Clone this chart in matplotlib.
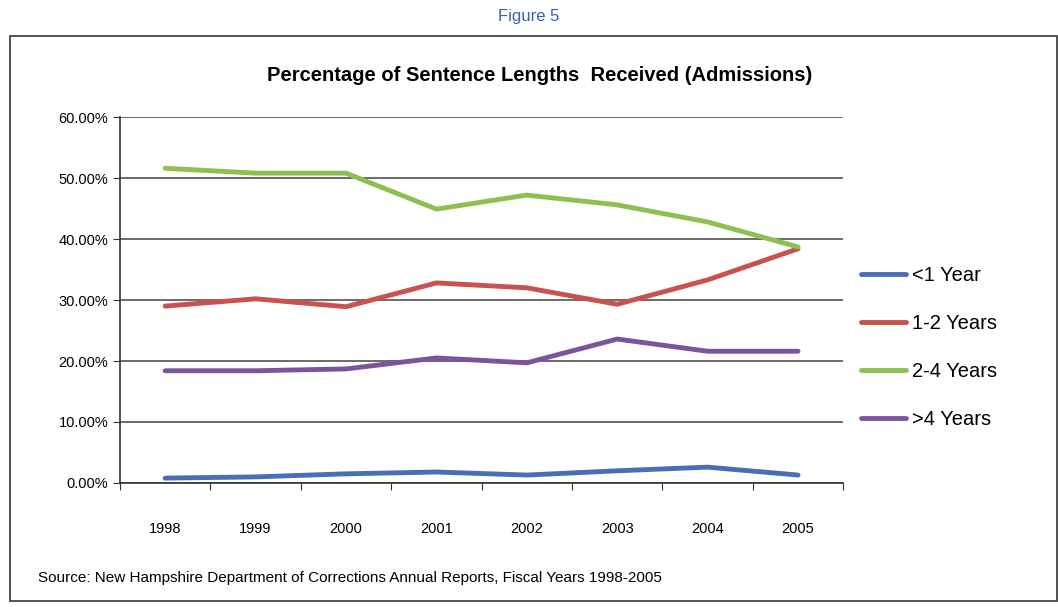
import matplotlib.pyplot as plt
from matplotlib.patches import Rectangle

plt.rcParams['font.family'] = ['Liberation Sans Narrow', 'Liberation Sans', 'DejaVu Sans']

years = ['1998', '1999', '2000', '2001', '2002', '2003', '2004', '2005']
under_1 = [0.8, 1.0, 1.5, 1.8, 1.3, 2.0, 2.6, 1.3]
yrs_1_2 = [29.0, 30.2, 28.9, 32.8, 32.0, 29.3, 33.3, 38.4]
yrs_2_4 = [51.6, 50.8, 50.8, 44.9, 47.2, 45.6, 42.8, 38.7]
over_4 = [18.4, 18.4, 18.7, 20.5, 19.7, 23.6, 21.6, 21.6]
series_names = ['<1 Year', '1-2 Years', '2-4 Years', '>4 Years']
colors = ['#4a6db3', '#c9514f', '#8fbf50', '#7a559c']

fig = plt.figure(figsize=(10.58, 6.07), dpi=100)
ax = fig.add_axes([0.1134, 0.2043, 0.6836, 0.6029])

x = list(range(len(years)))
for vals, name, c in zip([under_1, yrs_1_2, yrs_2_4, over_4], series_names, colors):
    ax.plot(x, vals, color=c, lw=3.5, label=name, solid_capstyle='round', zorder=3)

ax.set_xlim(-0.5, len(years) - 0.5)
ax.set_ylim(0, 60)
ax.set_yticks(range(0, 61, 10))
ax.set_yticklabels(['%.2f%%' % v for v in range(0, 61, 10)], fontsize=10.5)
ax.yaxis.grid(True, color='#444444', lw=1.1)
ax.set_axisbelow(True)

# category labels between tick marks
ax.set_xticks([i - 0.5 for i in range(len(years) + 1)])
ax.set_xticklabels([])
ax.set_xticks(x, minor=True)
ax.set_xticklabels(years, minor=True, fontsize=10.5)
ax.tick_params(axis='x', which='minor', length=0, pad=28)
ax.tick_params(axis='x', which='major', length=5, direction='out', color='#333333')
ax.tick_params(axis='y', length=5, color='#333333')

for s in ['top', 'right']:
    ax.spines[s].set_visible(False)
for s in ['left', 'bottom']:
    ax.spines[s].set_color('#333333')
    ax.spines[s].set_linewidth(1.2)

ax.legend(loc='center left', bbox_to_anchor=(0.999, 0.369), frameon=False,
          fontsize=14.5, handlelength=2.25, labelspacing=1.44, handletextpad=0.3)

ax.set_title('Percentage of Sentence Lengths  Received (Admissions)',
             fontsize=14.5, fontweight='bold', pad=26, x=0.58)

fig.text(0.5, 0.972, 'Figure 5', color='#3a5fb0', fontsize=12, ha='center', va='center')
fig.text(0.036, 0.048, 'Source: New Hampshire Department of Corrections Annual Reports, Fiscal Years 1998-2005',
         fontsize=11, ha='left', va='center')

# frame around the chart
fig.patches.append(Rectangle((0.009, 0.01), 0.99, 0.93, transform=fig.transFigure,
                             fill=False, edgecolor='#444444', lw=1.3))

fig.savefig('out.png', dpi=100)
